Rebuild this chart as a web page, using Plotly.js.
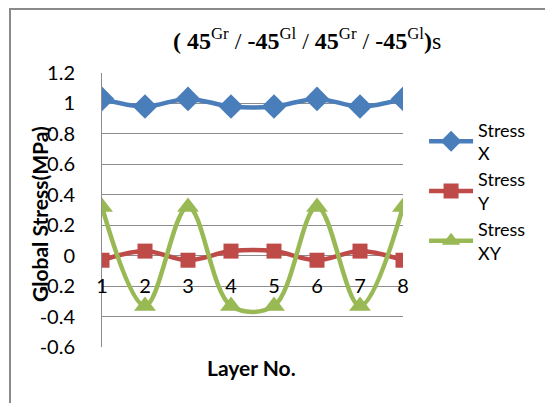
<!DOCTYPE html>
<html>
<head>
<meta charset="utf-8">
<script src="https://cdn.plot.ly/plotly-3.0.1.min.js"></script>
<style>
  html, body { margin: 0; padding: 0; background: #fff; }
  #wrap { position: relative; width: 545px; height: 403px; overflow: hidden; }
  #chart { position: absolute; left: 0; top: 0; width: 545px; height: 403px; }
  #frame { position: absolute; left: 9px; top: 8px; width: 560px; height: 420px;
           border-left: 2px solid #8a8a8a; border-top: 2px solid #8a8a8a; pointer-events: none; }
</style>
</head>
<body>
<div id="wrap">
  <div id="chart"></div>
  <div id="frame"></div>
</div>
<script>
const layers = [1, 2, 3, 4, 5, 6, 7, 8];
const stressX = [1.03, 0.98, 1.03, 0.98, 0.98, 1.03, 0.98, 1.03];
const stressY = [-0.03, 0.03, -0.03, 0.03, 0.03, -0.03, 0.03, -0.03];
const stressXY = [0.32, -0.33, 0.32, -0.33, -0.33, 0.32, -0.33, 0.32];
const yTicks = [-0.6, -0.4, -0.2, 0, 0.2, 0.4, 0.6, 0.8, 1, 1.2];
const yTickText = ['-0.6', '-0.4', '-0.2', '0', '0.2', '0.4', '0.6', '0.8', '1', '1.2'];

const font = 'Lato, "Open Sans", sans-serif';

function tr(name, y, color, symbol, size, group) {
  return {
    x: layers, y: y, name: name, type: 'scatter', mode: 'lines+markers',
    legendgroup: group,
    line: { color: color, width: 4.5, shape: 'spline', smoothing: 1 },
    marker: { color: color, symbol: symbol, size: size }
  };
}

const data = [
  tr('Stress<br>X', stressX, '#4a7ebb', 'diamond', 19, 'a'),
  tr('Stress<br>Y', stressY, '#be4b48', 'square', 15, 'b'),
  tr('Stress<br>XY', stressXY, '#98b954', 'triangle-up', 19, 'c')
];

const layout = {
  width: 545, height: 403,
  margin: { l: 102, r: 142, t: 73, b: 56 },
  paper_bgcolor: '#fff', plot_bgcolor: '#fff',
  showlegend: true,
  legend: {
    x: 1.07, y: 0.86, xanchor: 'left', yanchor: 'top',
    font: { family: font, size: 18, color: '#000' },
    itemwidth: 44,
    tracegroupgap: 0, bgcolor: 'rgba(0,0,0,0)'
  },
  xaxis: {
    range: [1, 8], tickvals: layers, ticktext: layers.map(String),
    anchor: 'free', position: 1/3,
    showgrid: false, zeroline: false, showline: false,
    ticks: '', ticklabelstandoff: 16,
    tickfont: { family: font, size: 20, color: '#000' }
  },
  yaxis: {
    range: [-0.6, 1.2], tickvals: yTicks, ticktext: yTickText,
    showgrid: true, gridcolor: '#8c8c8c', gridwidth: 1,
    zeroline: false, showline: true, linecolor: '#8c8c8c', linewidth: 1,
    ticks: '', ticklabelstandoff: 22,
    tickfont: { family: font, size: 20, color: '#000' }
  },
  annotations: [
    { text: '<b>( 45</b><sup>Gr</sup> / <b>-45</b><sup>Gl</sup> / <b>45</b><sup>Gr</sup> / <b>-45</b><sup>Gl</sup><b>)</b>s',
      xref: 'paper', yref: 'paper', x: (307 - 102) / 301, y: (347 - 39) / 274,
      xanchor: 'center', yanchor: 'middle', showarrow: false,
      font: { family: '"Liberation Serif", "Times New Roman", serif', size: 24, color: '#000' } },
    { text: '<b>Global Stress(MPa)</b>', textangle: -90,
      xref: 'paper', yref: 'paper', x: (39 - 102) / 301, y: (347 - 214) / 274,
      xanchor: 'center', yanchor: 'middle', showarrow: false,
      font: { family: font, size: 21, color: '#000' } },
    { text: '<b>Layer No.</b>',
      xref: 'paper', yref: 'paper', x: (251 - 102) / 301, y: (347 - 367) / 274,
      xanchor: 'center', yanchor: 'middle', showarrow: false,
      font: { family: font, size: 21, color: '#000' } }
  ]
};

Plotly.newPlot('chart', data, layout, { displayModeBar: false, staticPlot: true });
</script>
</body>
</html>
